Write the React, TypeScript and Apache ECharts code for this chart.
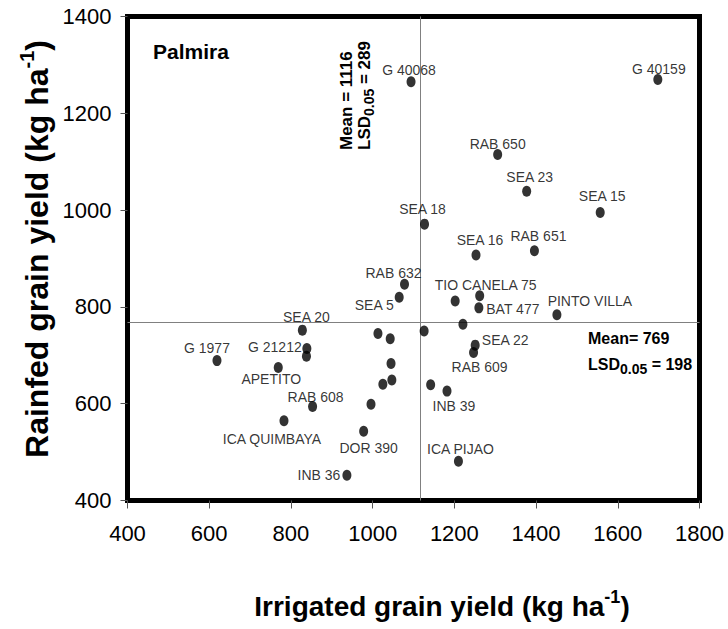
import React, { useEffect, useRef } from 'react';
import * as echarts from 'echarts';

// Genotypes evaluated at Palmira: grain yield under irrigation vs. rainfed conditions (kg/ha)
const GENOTYPES = [
  'G 40068', 'G 40159', 'RAB 650', 'SEA 23', 'SEA 15', 'SEA 18', 'SEA 16', 'RAB 651',
  'RAB 632', 'SEA 5', 'TIO CANELA 75', 'BAT 477', 'PINTO VILLA', 'SEA 20', 'G 21212',
  'G 1977', 'APETITO', 'RAB 608', 'ICA QUIMBAYA', 'DOR 390', 'INB 36', 'SEA 22',
  'RAB 609', 'INB 39', 'ICA PIJAO',
  '', '', '', '', '', '', '', '', '', '', '',
];
const IRRIGATED = [
  1094, 1698, 1306, 1377, 1557, 1127, 1253, 1396,
  1078, 1065, 1262, 1260, 1451, 828, 839,
  619, 769, 853, 783, 978, 937, 1251,
  1247, 1182, 1210,
  1202, 1221, 1126, 1142, 1013, 1043, 1045, 1047, 1025, 996, 838,
];
const RAINFED = [
  1265, 1270, 1115, 1039, 995, 971, 907, 916,
  847, 820, 823, 798, 784, 752, 714,
  689, 675, 594, 565, 543, 452, 721,
  706, 626, 481,
  812, 764, 750, 639, 745, 734, 683, 649, 640, 599, 698,
];

const SITE = 'Palmira';
const MEAN_IRRIGATED = 1116;
const LSD_IRRIGATED = 289;
const MEAN_RAINFED = 769;
const LSD_RAINFED = 198;

const X_MIN = 400;
const X_MAX = 1800;
const Y_MIN = 400;
const Y_MAX = 1400;
const TICK_STEP = 200;

// where each genotype name sits relative to its dot (px, label centre minus dot centre)
const LABEL_OFFSETS: Record<string, [number, number]> = {
  'G 40068': [-2, -12],
  'G 40159': [1, -10],
  'RAB 650': [0, -10],
  'SEA 23': [3, -14],
  'SEA 15': [2, -17],
  'SEA 18': [-2, -15],
  'SEA 16': [4, -15],
  'RAB 651': [4, -15],
  'RAB 632': [-11, -11],
  'SEA 5': [-25, 8],
  'TIO CANELA 75': [6, -11],
  'BAT 477': [34, 1],
  'PINTO VILLA': [33, -14],
  'SEA 20': [4, -13],
  'G 21212': [-32, -2],
  'G 1977': [-10, -13],
  'APETITO': [-7, 12],
  'RAB 608': [3, -10],
  'ICA QUIMBAYA': [-12, 18],
  'DOR 390': [5, 17],
  'INB 36': [-28, 0],
  'SEA 22': [30, -5],
  'RAB 609': [6, 15],
  'INB 39': [7, 15],
  'ICA PIJAO': [2, -12],
};

const FONT = '"Liberation Sans", Arial, Helvetica, sans-serif';

// "LSD" with a lowered "0.05", followed by the value
function lsdText(value: number, size: number, subSize: number) {
  return {
    text: `{b|LSD}{s|0.05}{b| = ${value}}`,
    rich: {
      b: { font: `bold ${size}px ${FONT}`, fill: '#000', lineHeight: size + 6 },
      s: { font: `bold ${subSize}px ${FONT}`, fill: '#000', lineHeight: subSize + 2, padding: [10, 0, 0, 0] },
    },
  };
}

export default function App() {
  const ref = useRef<HTMLDivElement>(null);

  useEffect(() => {
    if (!ref.current) return;
    const chart = echarts.init(ref.current, undefined, { renderer: 'svg' });

    const points = GENOTYPES.map((name, i) => ({
      name,
      value: [IRRIGATED[i], RAINFED[i]],
      label: {
        show: name !== '',
        offset: LABEL_OFFSETS[name] ?? [0, -12],
      },
    }));

    const plain = (v: number) => String(v);

    chart.setOption({
      animation: false,
      backgroundColor: '#fff',
      textStyle: { fontFamily: FONT },
      grid: {
        left: 127.5,
        right: 28.5,
        top: 16.5,
        bottom: 128.5,
        show: true,
        borderColor: '#000',
        borderWidth: 5,
        backgroundColor: 'transparent',
      },
      xAxis: {
        type: 'value',
        min: X_MIN,
        max: X_MAX,
        interval: TICK_STEP,
        axisLine: { show: false },
        axisTick: { show: true, length: 8, lineStyle: { color: '#555', width: 1 } },
        splitLine: { show: false },
        axisLabel: { fontSize: 22, color: '#000', margin: 22, fontFamily: FONT, formatter: plain },
      },
      yAxis: {
        type: 'value',
        min: Y_MIN,
        max: Y_MAX,
        interval: TICK_STEP,
        axisLine: { show: false },
        axisTick: { show: true, length: 7, lineStyle: { color: '#555', width: 1 } },
        splitLine: { show: false },
        axisLabel: { fontSize: 22, color: '#000', margin: 16, fontFamily: FONT, formatter: plain },
      },
      series: [
        {
          type: 'scatter',
          data: points,
          symbol: 'circle',
          symbolSize: [9, 11],
          itemStyle: { color: '#000' },
          label: {
            show: true,
            formatter: '{b}',
            position: 'inside',
            align: 'center',
            verticalAlign: 'middle',
            fontSize: 14,
            color: '#000',
            textBorderWidth: 0,
            fontFamily: FONT,
          },
          markLine: {
            silent: true,
            symbol: 'none',
            label: { show: false },
            lineStyle: { color: '#808080', width: 1, type: 'solid' },
            data: [{ xAxis: MEAN_IRRIGATED }, { yAxis: MEAN_RAINFED }],
            z: 1,
          },
        },
      ],
      graphic: [
        {
          type: 'text',
          left: 153,
          top: 41,
          style: {
            text: SITE,
            font: `bold 21px ${FONT}`,
            fill: '#000',
          },
        },
        // vertical mean line annotation
        {
          type: 'text',
          x: 346,
          y: 150,
          rotation: Math.PI / 2,
          style: {
            text: `Mean = ${MEAN_IRRIGATED}`,
            font: `bold 17px ${FONT}`,
            fill: '#000',
            align: 'left',
            verticalAlign: 'middle',
          },
        },
        {
          type: 'text',
          x: 364,
          y: 150,
          rotation: Math.PI / 2,
          style: {
            ...lsdText(LSD_IRRIGATED, 17, 14),
            align: 'left',
            verticalAlign: 'middle',
          },
        },
        // horizontal mean line annotation
        {
          type: 'text',
          x: 588,
          y: 338,
          style: {
            text: `Mean= ${MEAN_RAINFED}`,
            font: `bold 16px ${FONT}`,
            fill: '#000',
            align: 'left',
            verticalAlign: 'middle',
          },
        },
        {
          type: 'text',
          x: 588,
          y: 364,
          style: {
            ...lsdText(LSD_RAINFED, 16, 14),
            align: 'left',
            verticalAlign: 'middle',
          },
        },
        // axis titles
        {
          type: 'text',
          x: 442,
          y: 604,
          style: {
            text: '{t|Irrigated grain yield (kg ha}{p|-1}{t|)}',
            align: 'center',
            verticalAlign: 'middle',
            rich: {
              t: { font: `bold 28px ${FONT}`, fill: '#000', lineHeight: 32, verticalAlign: 'bottom' },
              p: { font: `bold 18px ${FONT}`, fill: '#000', lineHeight: 32, verticalAlign: 'top' },
            },
          },
        },
        {
          type: 'text',
          x: 35,
          y: 249,
          rotation: Math.PI / 2,
          style: {
            text: '{t|Rainfed grain yield (kg ha}{p|-1}{t|)}',
            align: 'center',
            verticalAlign: 'middle',
            rich: {
              t: { font: `bold 32px ${FONT}`, fill: '#000', lineHeight: 36, verticalAlign: 'bottom' },
              p: { font: `bold 20px ${FONT}`, fill: '#000', lineHeight: 36, verticalAlign: 'top' },
            },
          },
        },
      ],
    });

    return () => chart.dispose();
  }, []);

  return (
    <div
      ref={ref}
      style={{ position: 'absolute', left: 0, top: 0, width: 728, height: 629, background: '#fff' }}
    />
  );
}
